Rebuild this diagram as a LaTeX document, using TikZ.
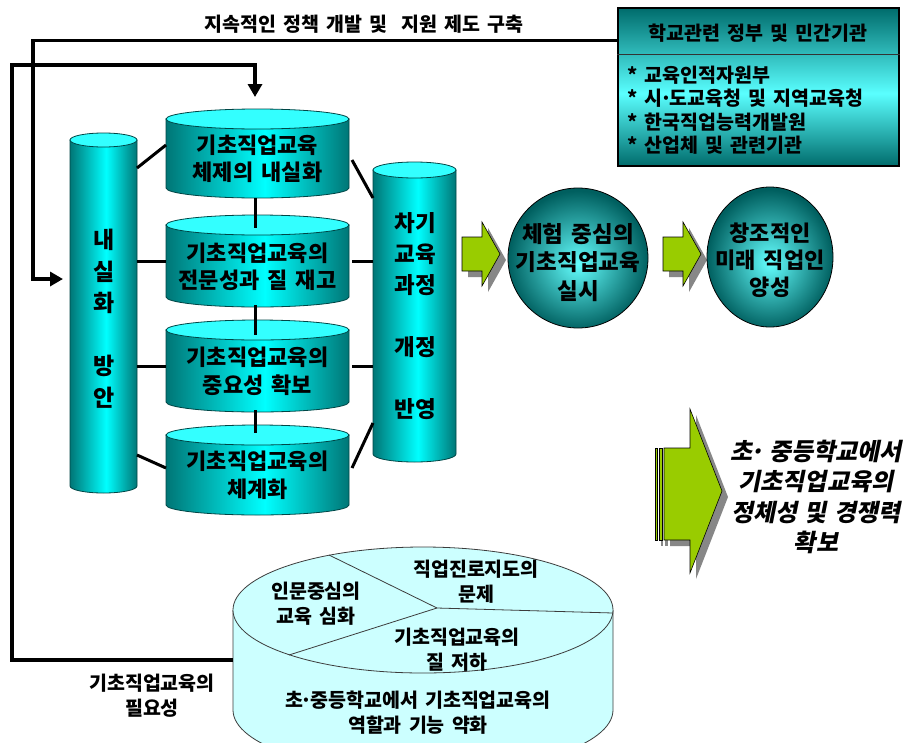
\documentclass[tikz,border=0pt]{standalone}
\usepackage{fontspec}
\setmainfont{Noto Sans CJK KR}[WordSpace=1.6]
\newfontfamily\slantfont{Noto Sans CJK KR}[FakeSlant=0.2,WordSpace=1.4]
\usetikzlibrary{calc,arrows.meta,shapes.geometric}

\definecolor{tealD}{RGB}{0,118,118}
\definecolor{cyanL}{RGB}{0,255,255}
\definecolor{cylTop}{RGB}{51,255,255}
\definecolor{cylEdge}{RGB}{0,70,70}
\definecolor{pieFill}{RGB}{204,255,255}
\definecolor{pieEdge}{RGB}{60,60,60}
\definecolor{arrGreen}{RGB}{153,204,0}
\definecolor{shadowG}{RGB}{135,135,135}
\definecolor{boxD}{RGB}{0,108,108}
\definecolor{boxL}{RGB}{90,255,255}
\definecolor{ballC}{RGB}{100,255,255}
\definecolor{ballE}{RGB}{0,95,95}

\newcommand\mdot{\kern-0.12em·\kern-0.12em}

\pgfdeclarehorizontalshading{cylbody}{100bp}{color(0bp)=(tealD); color(25bp)=(tealD); color(52bp)=(cyanL); color(75bp)=(tealD); color(100bp)=(tealD)}
\pgfdeclareverticalshading{boxsh}{100bp}{color(0bp)=(boxD); color(25bp)=(boxD); color(48bp)=(boxL); color(75bp)=(boxD); color(100bp)=(boxD)}
\pgfdeclareradialshading{ballsh}{\pgfpoint{0bp}{-2bp}}{color(0bp)=(ballC); color(25bp)=(ballE); color(50bp)=(ballE)}

\newcommand\cylshape[5]{%
  \pgfmathsetmacro\cylcx{(#1+#2)/2}%
  \pgfmathsetmacro\cylrx{(#2-#1)/2}%
  \shadedraw[shading=cylbody,draw=cylEdge,line width=0.8pt] (#1,#3) -- (#1,#4) arc[start angle=180,end angle=0,x radius=\cylrx,y radius=#5] -- (#2,#3) -- cycle;
  \filldraw[fill=cylTop,draw=cylEdge,line width=0.8pt] (\cylcx,#3) ellipse[x radius=\cylrx,y radius=#5];
}

\begin{document}
\begin{tikzpicture}[x=1pt,y=-1pt,
  bigline/.style={line width=3.5pt,-{Triangle[length=13pt,width=14pt]}},
  link/.style={line width=3pt},
  body/.style={inner sep=0pt,outer sep=0pt},
  cyltext/.style={font=\bfseries\fontsize{22}{27.5}\selectfont,align=center,inner sep=0pt},
  vtext/.style={font=\bfseries\fontsize{23}{31.5}\selectfont,align=center,inner sep=0pt},
  balltext/.style={font=\bfseries\fontsize{22.5}{28.5}\selectfont,align=center,inner sep=0pt},
  pietext/.style={font=\bfseries\fontsize{19.5}{25}\selectfont,align=center,inner sep=0pt},
  garrow/.style={fill=arrGreen,draw=black,line width=0.6pt},
  gshadow/.style={fill=shadowG}
]
\useasboundingbox (0,0) rectangle (913,742);
\fill[white] (0,0) rectangle (913,742);
\clip (0,0) rectangle (913,742);

% ---- top right box ----
\node[draw=black,line width=1.2pt,shading=boxsh,minimum width=281pt,minimum height=158pt,inner sep=0pt] (T) at (758.5,87) {};
\draw[line width=1pt,draw=black!80] ($(T.north west)+(0,47)$) -- ($(T.north east)+(0,47)$);
\node[font=\bfseries\fontsize{19.5}{22}\selectfont,inner sep=0pt] (th) at (758,33) {학교관련 정부 및 민간기관};
\node[font=\bfseries\fontsize{19.5}{23.4}\selectfont,align=left,anchor=west,inner sep=0pt] (items) at (627,110)
  {* 교육인적자원부\\* 시\mdot 도교육청 및 지역교육청\\* 한국직업능력개발원\\* 산업체 및 관련기관};

% ---- top label ----
\node[font=\bfseries\fontsize{19.5}{22}\selectfont,inner sep=0pt] (lab) at (364,24) {지속적인 정책 개발 및~~지원 제도 구축};

% ---- cylinders ----
\cylshape{70}{137}{140}{486}{7}
\cylshape{166}{349}{119}{188}{10}
\cylshape{166}{349}{225}{297}{10}
\cylshape{166}{349}{330}{402}{10}
\cylshape{166}{349}{435}{505}{10}
\cylshape{373}{456}{170}{454}{8}

\node[body,minimum width=67pt,minimum height=346pt] (L) at (103.5,313) {};
\node[body,minimum width=183pt,minimum height=69pt] (b1) at (257.5,153.5) {};
\node[body,minimum width=183pt,minimum height=72pt] (b2) at (257.5,261) {};
\node[body,minimum width=183pt,minimum height=72pt] (b3) at (257.5,366) {};
\node[body,minimum width=183pt,minimum height=70pt] (b4) at (257.5,470) {};
\node[body,minimum width=83pt,minimum height=284pt] (R) at (414.5,312) {};

\node[cyltext] (t1) at (257.5,159) {기초직업교육\\체제의 내실화};
\node[cyltext] (t2) at (257.5,267) {기초직업교육의\\전문성과 질 재고};
\node[cyltext] (t3) at (257.5,371.5) {기초직업교육의\\중요성 확보};
\node[cyltext] (t4) at (257.5,475) {기초직업교육의\\체계화};
\node[vtext] (tL) at (104,318.5) {내\\실\\화\\[31.5pt]방\\안};
\node[vtext,font=\bfseries\fontsize{22.5}{31}\selectfont] (tR) at (415,316.5) {차기\\교육\\과정\\[31pt]개정\\[31pt]반영};

% ---- connectors between cylinders ----
\draw[link] ($(L.north east)+(0,28)$) -- ($(b1.north west)+(0,26)$);
\draw[link] (L.east |- b2.west) -- (b2.west);
\draw[link] (L.east |- b3.west) -- (b3.west);
\draw[link] ($(L.south east)+(0,-31)$) -- ($(b4.north west)+(0,33)$);
\draw[link] ($(b1.south)+(-2.5,10)$) -- ($(b2.north)+(-2.5,3)$);
\draw[link] ($(b2.south)+(-2.5,8)$) -- ($(b3.north)+(-2.5,5)$);
\draw[link] ($(b3.south)+(-2.5,8)$) -- ($(b4.north)+(-2.5,-2)$);
\draw[link] ($(b1.north east)+(3,41)$) -- ($(R.north west)+(0,28)$);
\draw[link] ($(b2.east)+(3,0)$) -- (R.west |- b2.east);
\draw[link] ($(b3.east)+(3,0)$) -- (R.west |- b3.east);
\draw[link] ($(b4.north east)+(3,33)$) -- ($(R.south west)+(0,-31)$);

% ---- green arrows ----
\fill[gshadow,shift={(6,6)}] (462,237) -- (482,237) -- (482,222) -- (500,254) -- (482,286) -- (482,271) -- (462,271) -- cycle;
\filldraw[garrow] (462,237) -- (482,237) -- (482,222) -- (500,254) -- (482,286) -- (482,271) -- (462,271) -- cycle;
\fill[gshadow,shift={(6,6)}] (663,237) -- (683,237) -- (683,222) -- (701,254) -- (683,286) -- (683,271) -- (663,271) -- cycle;
\filldraw[garrow] (663,237) -- (683,237) -- (683,222) -- (701,254) -- (683,286) -- (683,271) -- (663,271) -- cycle;

% big striped arrow
\begin{scope}[shift={(6,6)}]
\fill[gshadow] (655,448) rectangle (657,540);
\fill[gshadow] (659,448) rectangle (662,540);
\fill[gshadow] (664,448) -- (690,448) -- (690,409) -- (722,491) -- (690,573) -- (690,540) -- (664,540) -- cycle;
\end{scope}
\filldraw[garrow] (655,448) rectangle (657,540);
\filldraw[garrow] (659,448) rectangle (662,540);
\filldraw[garrow] (664,448) -- (690,448) -- (690,409) -- (722,491) -- (690,573) -- (690,540) -- (664,540) -- cycle;

% ---- circles ----
\node[ellipse,draw=black,line width=0.8pt,shading=ballsh,minimum width=140pt,minimum height=140pt,inner sep=0pt] (C1) at (578,258) {};
\node[balltext] (C1t) at ($(C1.center)+(0,4.5)$) {체험 중심의\\기초직업교육\\실시};
\node[ellipse,draw=black,line width=0.8pt,shading=ballsh,minimum width=126pt,minimum height=140pt,inner sep=0pt] (C2) at (770,257) {};
\node[balltext,font=\bfseries\fontsize{22}{27}\selectfont] (C2t) at ($(C2.center)+(0,3)$) {창조적인\\미래 직업인\\양성};

% ---- goal text ----
\node[font=\slantfont\bfseries\fontsize{24}{30.3}\selectfont,align=center,inner sep=0pt] (goal) at (816,497)
  {초\mdot~중등학교에서\\기초직업교육의\\정체성 및 경쟁력\\확보};

% ---- pie cylinder ----
\fill[pieFill] (233,610) -- (233,710) arc[start angle=180,end angle=0,x radius=190,y radius=63] -- (613,610) -- cycle;
\draw[pieEdge,line width=0.8pt] (233,610) -- (233,710) arc[start angle=180,end angle=0,x radius=190,y radius=63] -- (613,610);
\filldraw[fill=pieFill,draw=pieEdge,line width=0.8pt] (423,610) ellipse[x radius=190,y radius=63];
\draw[pieEdge,line width=0.8pt] (329,555) -- (437,608) -- (613,613);
\draw[pieEdge,line width=0.8pt] (437,608) -- (289,655);
\node[body,minimum width=380pt,minimum height=100pt] (P) at (423,660) {};

\node[pietext] (p1) at (476,582) {직업진로지도의\\문제};
\node[pietext] (p2) at (316,604) {인문중심의\\교육 심화};
\node[pietext] (p3) at (457,649.5) {기초직업교육의\\질 저하};
\node[pietext] (p4) at (418,712.5) {초\mdot 중등학교에서 기초직업교육의\\역할과 기능 약화};
\node[pietext] (need) at (152,695.5) {기초직업교육의\\필요성};

% ---- long feedback lines ----
\draw[bigline] ($(T.north west)+(0,33)$) -| (33,279) -- ($(L.north west)+(-7,139)$);
\draw[bigline] (P.west) -| (12,65) -| ($(b1.north)+(-2.5,-22)$);

\end{tikzpicture}
\end{document}
